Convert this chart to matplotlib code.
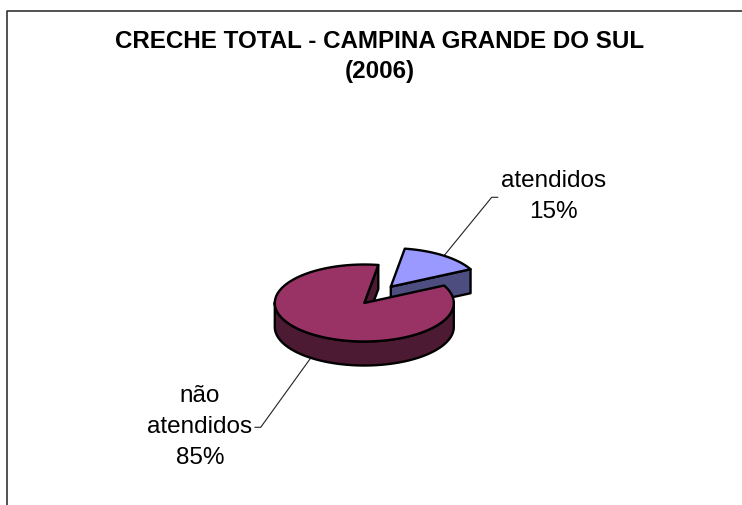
import numpy as np
import matplotlib
matplotlib.use('Agg')
import matplotlib.pyplot as plt
from matplotlib.patches import Polygon

plt.rcParams['font.family'] = ['Liberation Sans', 'DejaVu Sans']

categorias = ['atendidos', 'não\natendidos']
valores = [15, 85]
titulo = 'CRECHE TOTAL - CAMPINA GRANDE DO SUL\n(2006)'

# geometria da pizza em pixels da imagem
cx, cy = 364.3, 303
rx, ry = 89.5, 38.5
prof = 24
expl_x, expl_y = 26.5, -16.3
inicio = 81  # angulo onde comeca a fatia "nao atendidos"


def borda(a1, a2, dx=0, dy=0):
    t = np.radians(np.linspace(a1, a2, 200))
    return np.column_stack([cx + dx + rx * np.cos(t), cy + dy - ry * np.sin(t)])


def fatia(ax, a1, a2, dx, dy, cor_topo, cor_lado):
    apice = np.array([cx + dx, cy + dy])
    baixo = np.array([0, prof])
    kw = dict(edgecolor='black', linewidth=1.7, joinstyle='round')

    # parede radial em a1, a unica voltada para o observador
    p1 = borda(a1, a1, dx, dy)[0]
    ax.add_patch(Polygon([apice, p1, p1 + baixo, apice + baixo], facecolor=cor_lado, **kw))

    # parede externa, so a metade da frente
    a_lado = np.arange(np.ceil(a1), a2 + 1)
    a_lado = a_lado[(np.sin(np.radians(a_lado)) <= 0.02)]
    if len(a_lado) > 1:
        arco = borda(a_lado[0], a_lado[-1], dx, dy)
        ax.add_patch(Polygon(np.vstack([arco, (arco + baixo)[::-1]]), facecolor=cor_lado, **kw))

    topo = np.vstack([apice, borda(a1, a2, dx, dy)])
    ax.add_patch(Polygon(topo, facecolor=cor_topo, **kw))


fig = plt.figure(figsize=(7.42, 5.05), dpi=100)
ax = fig.add_axes([0, 0, 1, 1])
ax.set_xlim(0, 742)
ax.set_ylim(505, 0)
ax.axis('off')

# moldura do grafico, cortada na direita e embaixo
ax.plot([6.5, 6.5, 750], [510, 10.5, 10.5], color='#333333', lw=1.2, zorder=0)

graus = [v / sum(valores) * 360 for v in valores]

# linhas de chamada
ax.plot([497.7, 491.7, 443], [197.3, 197.3, 257], color='#222222', lw=0.8, zorder=1)
ax.plot([255, 260.7, 310], [427.3, 427.3, 359], color='#222222', lw=0.8, zorder=1)

# fatia destacada primeiro, a maior por cima
fatia(ax, inicio - graus[0], inicio, expl_x, expl_y, '#9999FF', '#4D4D80')
fatia(ax, inicio, inicio + graus[1], 0, 0, '#993366', '#4D1A33')

ax.text(553.3, 196.5, f'{categorias[0]}\n{valores[0]}%', ha='center', va='center',
        fontsize=17.5, linespacing=1.52)
ax.text(200, 427, f'{categorias[1]}\n{valores[1]}%', ha='center', va='center',
        fontsize=17.5, linespacing=1.55)
ax.text(379.5, 56.5, titulo, ha='center', va='center', fontsize=17.4, fontweight='bold',
        linespacing=1.39)

fig.savefig('out.png', dpi=100)
